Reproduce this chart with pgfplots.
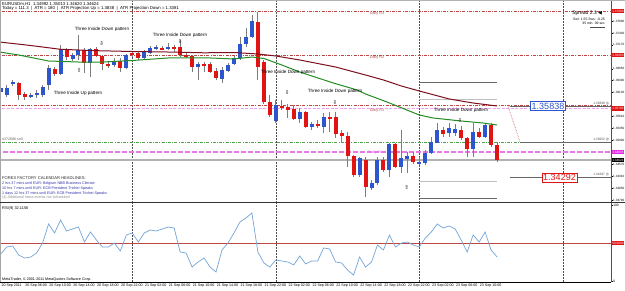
\documentclass[border=0pt]{standalone}
\usepackage{pgfplots}
\pgfplotsset{compat=1.18}
\usepackage{pgfplotstable}
\usepackage{fontspec}
\setmainfont{Liberation Sans}
\newfontfamily\symfont{DejaVu Sans}

\definecolor{bull}{RGB}{45,85,205}
\definecolor{bear}{RGB}{225,20,20}
\definecolor{wick}{RGB}{125,125,125}
\definecolor{mama}{RGB}{125,15,30}
\definecolor{magr}{RGB}{35,140,35}
\definecolor{pivc}{RGB}{235,120,235}
\definecolor{pivbox}{RGB}{225,40,225}
\definecolor{rlc}{RGB}{190,70,70}
\definecolor{rsic}{RGB}{115,165,215}
\definecolor{newsc}{RGB}{50,50,170}
\definecolor{sepc}{RGB}{80,80,80}

\newcommand\tf[1]{\fontsize{#1}{#1}\selectfont}

\pgfplotsset{/pgf/number format/assume math mode=true}

\pgfplotstableread{
h open high low close d
2 1.36143 1.36274 1.36100 1.36231 1
3 1.36078 1.36296 1.36034 1.36231 1
4 1.36318 1.36405 1.36274 1.36361 1
5 1.36340 1.36361 1.35969 1.36078 0
6 1.36100 1.36143 1.35969 1.36034 0
7 1.36056 1.36122 1.36013 1.36078 1
8 1.36078 1.36187 1.36013 1.36122 1
9 1.36078 1.36296 1.36034 1.36252 1
10 1.36296 1.36732 1.36187 1.36667 1
11 1.36645 1.36688 1.36492 1.36536 0
12 1.36536 1.37168 1.36514 1.37081 1
13 1.37059 1.37103 1.36841 1.36906 0
14 1.36863 1.36994 1.36819 1.36950 1
15 1.36950 1.37386 1.36841 1.37059 1
16 1.37059 1.37103 1.36558 1.36776 0
17 1.36776 1.37103 1.36470 1.37081 1
18 1.37081 1.37124 1.36906 1.36928 0
19 1.36928 1.36950 1.36623 1.36754 0
20 1.36754 1.36797 1.36667 1.36732 0
21 1.36732 1.36885 1.36688 1.36819 1
22 1.36819 1.36885 1.36579 1.36667 0
23 1.36667 1.36972 1.36645 1.36950 1
24 1.36994 1.37037 1.36906 1.36950 0
25 1.36994 1.37015 1.36841 1.36885 0
26 1.36885 1.37059 1.36841 1.37015 1
27 1.36994 1.37146 1.36972 1.37103 1
28 1.37103 1.37168 1.37059 1.37124 1
29 1.37103 1.37146 1.37059 1.37081 0
30 1.37081 1.37212 1.37059 1.37124 1
31 1.37124 1.37168 1.37015 1.37103 0
32 1.37124 1.37277 1.36906 1.36950 0
33 1.36950 1.36994 1.36885 1.36928 0
34 1.36928 1.36950 1.36579 1.36688 0
35 1.36688 1.36797 1.36405 1.36754 1
36 1.36754 1.36797 1.36579 1.36710 0
37 1.36754 1.36797 1.36558 1.36579 0
38 1.36601 1.36667 1.36405 1.36449 0
39 1.36427 1.36688 1.36340 1.36623 1
40 1.36601 1.36776 1.36579 1.36732 1
41 1.36754 1.36928 1.36732 1.36885 1
42 1.36885 1.37342 1.36841 1.37190 1
43 1.37190 1.37539 1.37124 1.37342 1
44 1.37342 1.37822 1.37321 1.37691 1
45 1.37669 1.37887 1.36405 1.36688 0
46 1.36797 1.36841 1.35882 1.35925 0
47 1.35925 1.36078 1.35598 1.35642 0
48 1.35511 1.35969 1.35468 1.35860 1
49 1.35838 1.35969 1.35751 1.35816 0
50 1.35816 1.35882 1.35577 1.35751 0
51 1.35773 1.35860 1.35533 1.35555 0
52 1.35555 1.35795 1.35468 1.35707 1
53 1.35707 1.35729 1.35359 1.35380 0
54 1.35380 1.35489 1.35315 1.35446 1
55 1.35446 1.35533 1.35359 1.35402 0
56 1.35380 1.35686 1.35250 1.35598 1
57 1.35598 1.35707 1.35271 1.35577 0
58 1.35598 1.35707 1.35141 1.35228 0
59 1.35250 1.35315 1.35053 1.35184 0
60 1.35184 1.35271 1.34508 1.34748 0
61 1.34748 1.34770 1.34290 1.34334 0
62 1.34334 1.34726 1.34290 1.34705 1
63 1.34661 1.34726 1.33854 1.34073 0
64 1.34051 1.34225 1.34007 1.34160 1
65 1.34160 1.34726 1.34116 1.34661 1
66 1.34661 1.34726 1.34399 1.34443 0
67 1.34443 1.35032 1.34290 1.35010 1
68 1.35010 1.35032 1.34487 1.34508 0
69 1.34508 1.35315 1.34378 1.34705 1
70 1.34683 1.34835 1.34378 1.34748 1
71 1.34748 1.34835 1.34574 1.34617 0
72 1.34596 1.34726 1.34552 1.34617 1
73 1.34596 1.34879 1.34552 1.34814 1
74 1.34814 1.35162 1.34792 1.35053 1
75 1.35032 1.35468 1.35032 1.35315 1
76 1.35315 1.35380 1.35162 1.35228 0
77 1.35250 1.35468 1.35162 1.35359 1
78 1.35250 1.35446 1.35184 1.35337 1
79 1.35315 1.35402 1.35097 1.35141 0
80 1.35141 1.35162 1.34726 1.34901 0
81 1.34901 1.35468 1.34726 1.35271 1
82 1.35271 1.35359 1.35141 1.35162 0
83 1.35162 1.35468 1.35141 1.35424 1
84 1.35424 1.35468 1.34944 1.34988 0
85 1.34988 1.35053 1.34617 1.34661 0
}\candles

\pgfplotstableread{
h ma
1.8 1.37233
7 1.37157
12 1.37074
18 1.37044
24 1.37026
30 1.37015
36 1.36998
41 1.37004
45 1.36972
48 1.36928
52 1.36841
58 1.36688
63 1.36514
66 1.36405
69 1.36274
72 1.36165
77 1.35991
81 1.35903
85 1.35838
}\maslow

\pgfplotstableread{
h ma
1.8 1.37015
5 1.36950
10 1.36819
15 1.36797
19 1.36797
24 1.36830
30 1.36885
37 1.36885
41 1.36863
44 1.36906
46 1.36874
49 1.36732
52 1.36579
57.6 1.36340
61.6 1.36187
63 1.36100
66.6 1.35925
72 1.35642
74.3 1.35577
79 1.35511
82.6 1.35468
85 1.35424
}\mafast

\pgfplotstableread{
h rsi
2 35.9
3 45.1
4 46.4
5 34.6
6 30.7
7 32.0
8 37.2
9 50.3
10 75.2
11 63.4
12 80.4
13 66.0
14 68.6
15 71.2
16 51.6
17 64.7
18 54.2
19 45.1
20 45.1
21 50.3
22 39.9
23 60.8
24 63.4
25 51.6
26 63.4
27 67.3
28 66.0
29 68.6
30 71.2
31 69.9
32 38.6
33 37.2
34 18.9
35 25.5
36 30.7
37 18.9
38 12.4
39 41.2
40 50.3
41 63.4
42 77.8
43 83.0
44 89.5
45 38.6
46 24.2
47 18.9
48 28.1
49 26.8
50 25.5
51 21.6
52 33.3
53 22.9
54 26.8
55 26.8
56 43.8
57 42.5
58 25.5
59 24.2
60 15.0
61 8.5
62 32.0
63 18.9
64 25.5
65 47.7
66 41.2
67 60.8
68 45.1
69 50.3
70 51.6
71 47.7
72 45.1
73 56.9
74 64.7
75 75.2
76 69.9
77 72.5
78 68.6
79 54.2
80 38.6
81 60.8
82 51.6
83 64.7
84 41.2
85 32.0
}\rsidata

\begin{document}
\begin{tikzpicture}[x=1pt,y=1pt]
\useasboundingbox (0,0) rectangle (625,291);
\clip (0,0) rectangle (625,291);
\fill[white] (0,0) rectangle (625,291);

% ---------------- main price panel ----------------
\begin{axis}[
  at={(0pt,89pt)}, anchor=south west,
  width=611pt, height=202pt, scale only axis,
  xmin=1.876, xmax=104.05, ymin=1.337454, ymax=1.38149,
  axis x line=none, axis y line*=right,
  y axis line style={draw=sepc, line width=0.6pt},
  ytick={1.3769,1.3743,1.3717,1.3665,1.3639,1.3613,1.3561,1.3535,1.3509,1.3457,1.3431,1.3405,1.3379},
  scaled y ticks=false,
  tick align=outside, major tick length=1.5pt,
  tick style={black, line width=0.4pt},
  yticklabel style={font=\tf{3.1}, inner sep=0.5pt,
    /pgf/number format/.cd, fixed, fixed zerofill, precision=5},
]
% day separators
\addplot[sepc, densely dotted, line width=0.5pt] coordinates {(24,1.30) (24,1.40)};
\addplot[sepc, densely dotted, line width=0.5pt] coordinates {(48,1.30) (48,1.40)};
\addplot[sepc, densely dotted, line width=0.5pt] coordinates {(72,1.30) (72,1.40)};
\addplot[sepc, densely dotted, line width=0.5pt] coordinates {(96,1.30) (96,1.40)};
% pivot levels
\addplot[rlc, line width=0.5pt, dash pattern=on 3pt off 1.3pt on 0.8pt off 1.3pt] coordinates {(0,1.37909) (110,1.37909)};
\addplot[rlc, line width=0.5pt, dash pattern=on 3pt off 1.3pt on 0.8pt off 1.3pt] coordinates {(0,1.36950) (110,1.36950)};
\addplot[rlc, line width=0.5pt, dash pattern=on 3pt off 1.3pt on 0.8pt off 1.3pt] coordinates {(0,1.35860) (110,1.35860)};
\addplot[pivc!70, line width=0.6pt, dash pattern=on 3pt off 1.5pt] coordinates {(0,1.35795) (110,1.35795)};
\addplot[magr!80, line width=0.5pt, dash pattern=on 3pt off 1.3pt on 0.8pt off 1.3pt] coordinates {(0,1.35053) (110,1.35053)};
\addplot[pivc, line width=1.1pt, dash pattern=on 5pt off 2pt] coordinates {(0,1.34835) (110,1.34835)};
\addplot[black!30, line width=1.3pt] coordinates {(0,1.34661) (110,1.34661)};
% day range lines
\addplot[black!60, line width=0.7pt] coordinates {(72,1.36361) (85,1.36361)};
\addplot[black!25, line width=0.7pt] coordinates {(72,1.35991) (85,1.35991)};
\addplot[black!25, line width=0.7pt] coordinates {(72,1.34203) (85,1.34203)};
\addplot[black!60, line width=0.7pt] coordinates {(72,1.33833) (85,1.33833)};
% projections
\addplot[black!60, line width=0.6pt] coordinates {(87.16,1.35838) (110,1.35838)};
\addplot[rlc, densely dotted, line width=0.6pt] coordinates {(86.83,1.35838) (88.83,1.35053)};
\addplot[black!60, line width=0.6pt] coordinates {(88.83,1.35053) (110,1.35053)};
\addplot[black!60, line width=0.6pt] coordinates {(87.16,1.34290) (110,1.34290)};
% wicks
\addplot[only marks, mark=text, text mark={}, error bars/.cd, y dir=both, y explicit, error mark=none,
  error bar style={line width=0.8pt, wick}]
  table[x=h, y expr={(\thisrow{high}+\thisrow{low})/2}, y error expr={(\thisrow{high}-\thisrow{low})/2}] {\candles};
% bull bodies
\addplot[only marks, mark=text, text mark={}, error bars/.cd, y dir=both, y explicit, error mark=none,
  error bar style={line width=4pt, bull}]
  table[x=h, y expr={(\thisrow{open}+\thisrow{close})/2}, y error expr={\thisrow{d}*abs(\thisrow{open}-\thisrow{close})/2}] {\candles};
% bear bodies
\addplot[only marks, mark=text, text mark={}, error bars/.cd, y dir=both, y explicit, error mark=none,
  error bar style={line width=4pt, bear}]
  table[x=h, y expr={(\thisrow{open}+\thisrow{close})/2}, y error expr={(1-\thisrow{d})*abs(\thisrow{open}-\thisrow{close})/2}] {\candles};
% moving averages
\addplot[mama, line width=1pt] table[x=h, y=ma] {\maslow};
\addplot[magr, line width=1pt] table[x=h, y=ma] {\mafast};
% fractal arrows
\addplot[only marks, black!70, mark=text, text mark={\symfont\tf{5.5}⇩}]
  coordinates {(18.9,1.37190) (32,1.37233) (49.9,1.36122) (57.9,1.35903) (78.8,1.35511)};
\addplot[only marks, black!70, mark=text, text mark={\symfont\tf{5.5}⇧}]
  coordinates {(15.1,1.36623) (69.9,1.34073)};
% pattern labels
\node[font=\tf{4.6}, inner sep=0] at (axis cs:18.93,1.37517) {Three Inside Down pattern};
\node[font=\tf{4.6}, inner sep=0] at (axis cs:31.98,1.37386) {Three Inside Down pattern};
\node[font=\tf{4.6}, inner sep=0] at (axis cs:14.92,1.36122) {Three Inside Up pattern};
\node[font=\tf{4.6}, inner sep=0] at (axis cs:50.04,1.36579) {Three Inside Down pattern};
\node[font=\tf{4.6}, inner sep=0] at (axis cs:57.90,1.36165) {Three Inside Down pattern};
\node[font=\tf{4.6}, inner sep=0] at (axis cs:78.97,1.35751) {Three Inside Down pattern};
\end{axis}

% ---------------- RSI panel ----------------
\begin{axis}[
  at={(0pt,9pt)}, anchor=south west,
  width=611pt, height=79pt, scale only axis,
  xmin=1.876, xmax=104.05, ymin=-0.65, ymax=102.6,
  axis x line*=bottom, axis y line*=right,
  x axis line style={draw=black, line width=0.6pt},
  y axis line style={draw=sepc, line width=0.6pt},
  xtick={2,6,...,82},
  xticklabels={20 Sep 2011,20 Sep 06:00,20 Sep 10:00,20 Sep 14:00,20 Sep 18:00,20 Sep 22:00,21 Sep 02:00,21 Sep 06:00,21 Sep 10:00,21 Sep 14:00,21 Sep 18:00,21 Sep 22:00,22 Sep 02:00,22 Sep 06:00,22 Sep 10:00,22 Sep 14:00,22 Sep 18:00,22 Sep 22:00,23 Sep 02:00,23 Sep 06:00,23 Sep 10:00},
  xticklabel style={font=\tf{3.6}, anchor=north west, inner sep=0.6pt},
  ytick={0,100},
  yticklabel style={font=\tf{3.3}, inner sep=0.6pt},
  tick align=outside, major tick length=1.5pt,
  tick style={black, line width=0.4pt},
]
\addplot[sepc, densely dotted, line width=0.5pt] coordinates {(24,-10) (24,120)};
\addplot[sepc, densely dotted, line width=0.5pt] coordinates {(48,-10) (48,120)};
\addplot[sepc, densely dotted, line width=0.5pt] coordinates {(72,-10) (72,120)};
\addplot[sepc, densely dotted, line width=0.5pt] coordinates {(96,-10) (96,120)};
\addplot[rlc, line width=0.6pt] coordinates {(0,50) (110,50)};
\addplot[rsic, line width=0.7pt] table[x=h, y=rsi] {\rsidata};
\end{axis}

% ---------------- frame and annotations ----------------
\draw[black!30, line width=0.8pt] (0,290.6) -- (625,290.6);
\draw[black!35, line width=1pt] (0.5,9) -- (0.5,291);
\draw[black!80, line width=1.4pt] (0,88.5) -- (625,88.5);

% header
\node[anchor=west, inner sep=0, font=\tf{4.3}] at (2,287.2) {EURUSDm,H1 \ 1.34992 1.35013 1.34620 1.34624};
\node[anchor=west, inner sep=0, font=\tf{4.3}] at (2,282.8) {Today = 111.3 \ | \ ATR = 180 \ | \ ATR Projection Up = 1.3838 \ | \ ATR Projection Down = 1.3381};

% top right info
\node[anchor=east, inner sep=0, font=\tf{5}] at (597,278) {Spread 2.3};
\node[anchor=west, inner sep=0, font=\symfont\tf{5}] at (598,278) {◀};
\node[anchor=east, inner sep=0, font=\tf{3.4}] at (605,271.5) {Swl: 1.55 Sws: -0.25};
\node[anchor=east, inner sep=0, font=\tf{3.4}] at (605,267.5) {35 min. 09 sec};
\draw[black!70, line width=0.4pt] (590,263.5) -- (605,263.5);

% pivot labels
\node[font=\tf{3.8}, text=rlc, inner sep=0] at (377,277.5) {Daily R3};
\node[font=\tf{3.8}, text=rlc, inner sep=0] at (377,233.5) {Daily R2};
\node[font=\tf{3.8}, text=rlc, inner sep=0] at (377,180.5) {Daily R1};
\node[font=\tf{3.8}, text=pivc, inner sep=0] at (377,138) {Daily Pivot};
\node[anchor=west, inner sep=0, font=\tf{3.6}, text=black!60] at (2,151.5) {\#372686 sell};

% projection labels
\node[anchor=east, inner sep=0, font=\tf{3.2}, text=black!70] at (609,187.5) {1.35838 (t)};
\node[anchor=east, inner sep=0, font=\tf{3.2}, text=black!70] at (609,151.5) {1.35052 (t)};
\node[anchor=east, inner sep=0, font=\tf{3.2}, text=black!70] at (609,116.5) {1.34297 (t)};
\node[draw=bull, fill=white, text=bull, font=\tf{9}, inner sep=1.2pt, line width=0.5pt] at (548,185) {1.35838};
\node[draw=bear, fill=white, text=bear, font=\tf{9}, inner sep=1.2pt, line width=0.5pt] at (559.5,113.5) {1.34292};

% price scale boxes
\foreach \yy/\cc/\lab in {280/bear/1.37909, 236/bear/1.36950, 182.5/bear/1.35795, 139/pivbox/1.34835, 131/black/1.34624}
  \node[anchor=west, fill=\cc, text=white, font=\tf{3.1}, inner sep=0.5pt, minimum height=4.4pt] at (611.6,\yy) {\lab};
\node[anchor=west, fill=bear, text=white, font=\tf{3.1}, inner sep=0.5pt, minimum height=4.4pt] at (611.6,48) {50.0000};

% news
\node[anchor=west, inner sep=0, font=\tf{4.1}, text=black!85] at (2,112.7) {FOREX FACTORY CALENDAR HEADLINES:};
\node[anchor=west, inner sep=0, font=\tf{3.7}, text=newsc] at (2,107) {2 hrs 37 mins until EUR: Belgium NBB Business Climate};
\node[anchor=west, inner sep=0, font=\tf{3.7}, text=newsc] at (2,102) {10 hrs 7 mins until EUR: ECB President Trichet Speaks};
\node[anchor=west, inner sep=0, font=\tf{3.7}, text=newsc] at (2,97.5) {1 days 12 hrs 37 mins until EUR: ECB President Trichet Speaks};
\node[anchor=west, inner sep=0, font=\tf{3.7}, text=black!45] at (2,93) {(4) Additional news events not scheduled};

% RSI caption and copyright
\node[anchor=west, inner sep=0, font=\tf{3.9}] at (2,83) {RSI(9) 32.1156};
\node[anchor=west, inner sep=0, font=\tf{3.7}] at (2,11.5) {MetaTrader, © 2001-2011 MetaQuotes Software Corp.};
\end{tikzpicture}
\end{document}
